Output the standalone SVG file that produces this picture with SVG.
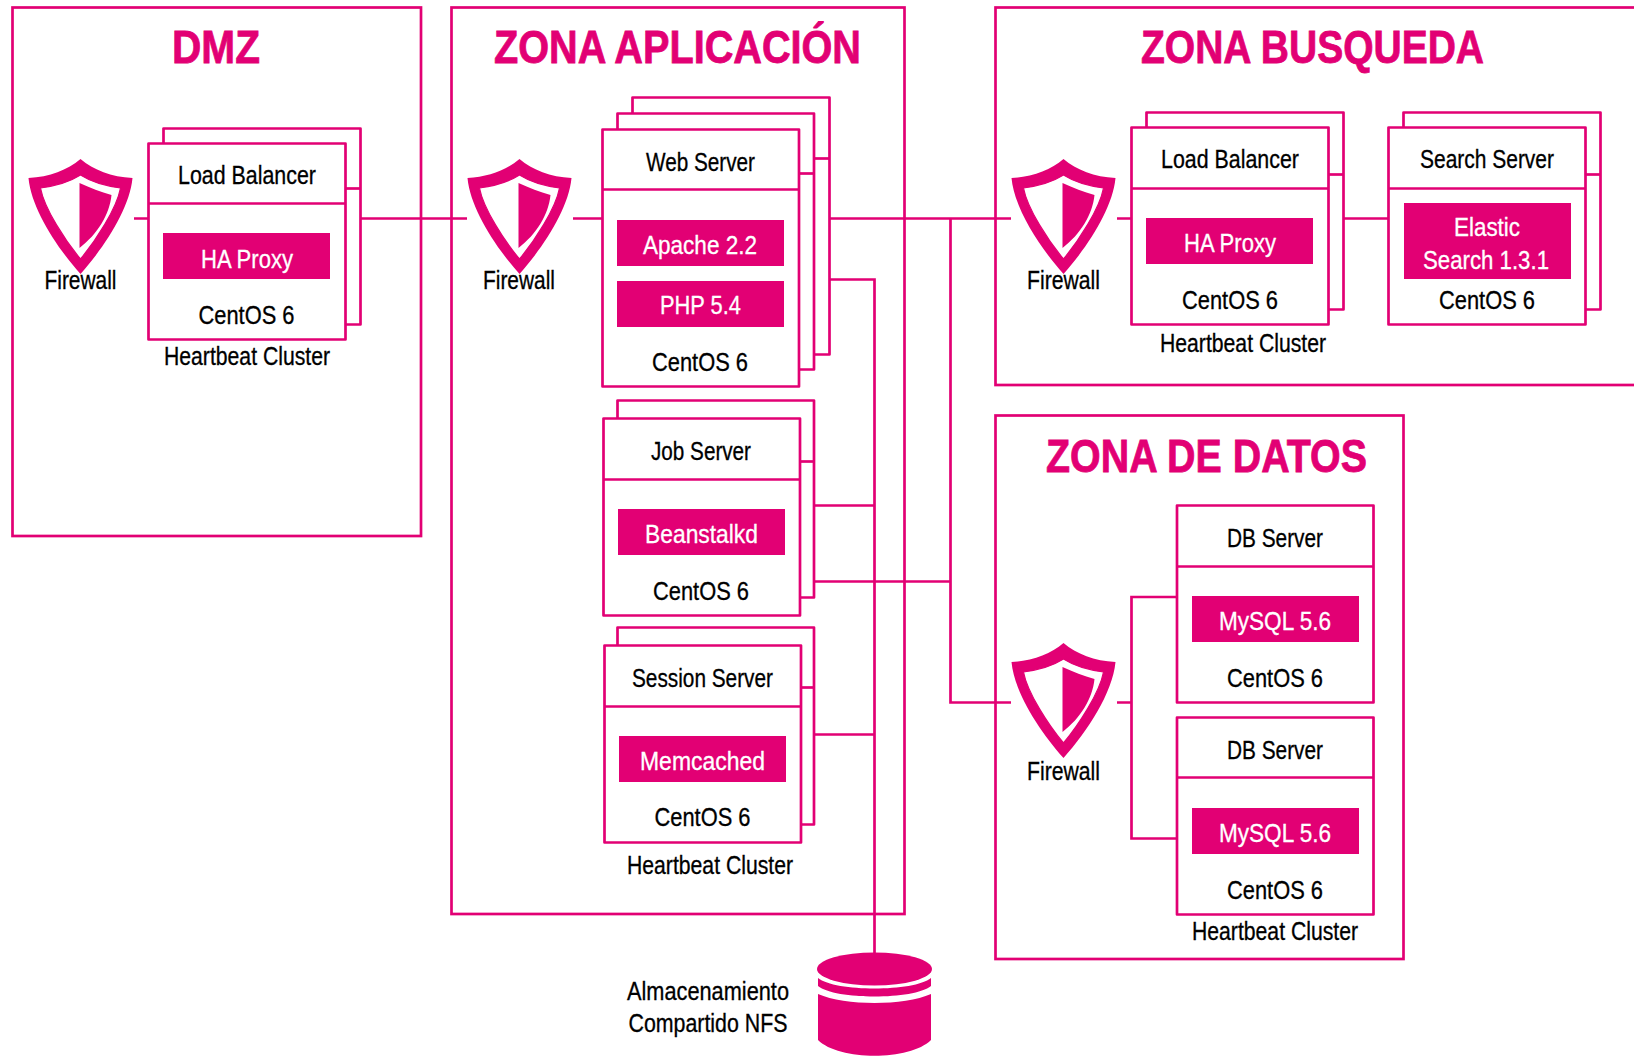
<svg xmlns="http://www.w3.org/2000/svg" width="1634" height="1056" viewBox="0 0 1634 1056">
<style>
.z{fill:none;stroke:#e20074;stroke-width:2.7}
.b{fill:#fff;stroke:#e20074;stroke-width:2.7;stroke-linejoin:round}
.l{fill:none;stroke:#e20074;stroke-width:2.7}
.f{fill:#e20074}
text{font-family:"Liberation Sans",Arial,sans-serif;font-size:25px;text-anchor:middle;fill:#000;stroke:#000;stroke-width:.3}
text.w{fill:#fff;stroke:#fff}
text.t{fill:#e20074;stroke:#e20074;stroke-width:.8;font-weight:bold;font-size:47px}
</style>
<defs>
<g id="shield">
<path class="f" d="M0,0C-13,11 -31,18 -52,19C-49,50 -24,88 0,115C24,88 49,50 52,19C31,18 13,11 0,0Z"/>
<path fill="#fff" stroke="#e20074" stroke-width="1.2" d="M0,16C-11,23 -25,27 -40,29C-36,50 -15,82 0,100C15,82 36,50 40,29C25,27 11,23 0,16Z"/>
<path class="f" d="M-1,24C10,29 20,33 31,36C29,56 17,75 -1,89Z"/>
</g>
</defs>
<g id="zones">
<rect class="z" x="12.500" y="7.500" width="408.500" height="528.500"/>
<rect class="z" x="451.500" y="7.500" width="453" height="906.500"/>
<rect class="z" x="995.500" y="7.500" width="645" height="377.500"/>
<rect class="z" x="995.500" y="415.500" width="408" height="543.500"/>
<text class="t" x="216" y="63" textLength="88" lengthAdjust="spacingAndGlyphs">DMZ</text>
<text class="t" x="677.500" y="63" textLength="367" lengthAdjust="spacingAndGlyphs">ZONA APLICACIÓN</text>
<text class="t" x="1312.500" y="63" textLength="343" lengthAdjust="spacingAndGlyphs">ZONA BUSQUEDA</text>
<text class="t" x="1206.500" y="472" textLength="321" lengthAdjust="spacingAndGlyphs">ZONA DE DATOS</text>
</g>
<g id="connectors">
<path class="l" d="M134,218.500H148M361,218.500H467M573,218.500H602M829,218.500H1011M1117,218.500H1131M1344,218.500H1388"/>
<path class="l" d="M829,279.500H874.500V953M814,505.500H874.500M814,734.500H874.500"/>
<path class="l" d="M950.500,218.500V702.500H1011M814,581.500H950.500"/>
<path class="l" d="M1117,702.500H1131.500M1177,597H1131.500V838.500H1177"/>
</g>
<g id="fw-dmz"><use href="#shield" x="80.500" y="159"/><text x="80.500" y="289" textLength="72" lengthAdjust="spacingAndGlyphs">Firewall</text></g>
<g id="lb-dmz">
<rect class="b" x="163.500" y="128.500" width="197" height="196"/><path class="l" d="M346,188.500H361"/>
<rect class="b" x="148.500" y="143.500" width="197" height="196"/><path class="l" d="M148,203.500H346"/>
<rect class="f" x="163" y="233" width="167" height="46"/>
<text x="247" y="184" textLength="138" lengthAdjust="spacingAndGlyphs">Load Balancer</text>
<text class="w" x="247" y="268" textLength="92" lengthAdjust="spacingAndGlyphs">HA Proxy</text>
<text x="246.500" y="324" textLength="96" lengthAdjust="spacingAndGlyphs">CentOS 6</text>
<text x="247" y="365" textLength="166" lengthAdjust="spacingAndGlyphs">Heartbeat Cluster</text>
</g>
<g id="fw-app"><use href="#shield" x="519.500" y="159"/><text x="519" y="289" textLength="72" lengthAdjust="spacingAndGlyphs">Firewall</text></g>
<g id="web">
<rect class="b" x="632.500" y="97.500" width="197" height="257"/><path class="l" d="M814,158.500H829"/>
<rect class="b" x="617.500" y="113.500" width="196.500" height="256"/><path class="l" d="M799,173.500H814"/>
<rect class="b" x="602.500" y="129.500" width="196.500" height="257"/><path class="l" d="M602,189.500H799"/>
<rect class="f" x="617" y="220" width="167" height="46"/>
<rect class="f" x="617" y="281" width="167" height="46"/>
<text x="700.500" y="171" textLength="109" lengthAdjust="spacingAndGlyphs">Web Server</text>
<text class="w" x="700" y="254" textLength="114" lengthAdjust="spacingAndGlyphs">Apache 2.2</text>
<text class="w" x="700.500" y="314" textLength="81" lengthAdjust="spacingAndGlyphs">PHP 5.4</text>
<text x="700" y="371" textLength="96" lengthAdjust="spacingAndGlyphs">CentOS 6</text>
</g>
<g id="job">
<rect class="b" x="617.500" y="400.500" width="196.500" height="197"/><path class="l" d="M800,461.500H814"/>
<rect class="b" x="603.500" y="418.500" width="196.500" height="197"/><path class="l" d="M603,479.500H800"/>
<rect class="f" x="618" y="509" width="167" height="46"/>
<text x="701" y="460" textLength="100" lengthAdjust="spacingAndGlyphs">Job Server</text>
<text class="w" x="701.500" y="543" textLength="113" lengthAdjust="spacingAndGlyphs">Beanstalkd</text>
<text x="701" y="600" textLength="96" lengthAdjust="spacingAndGlyphs">CentOS 6</text>
</g>
<g id="session">
<rect class="b" x="617.500" y="627.500" width="196.500" height="197"/><path class="l" d="M801,687.500H814"/>
<rect class="b" x="604.500" y="645.500" width="196.500" height="197"/><path class="l" d="M604,706.500H801"/>
<rect class="f" x="619" y="736" width="167" height="46"/>
<text x="702.500" y="686.500" textLength="141" lengthAdjust="spacingAndGlyphs">Session Server</text>
<text class="w" x="702.500" y="770" textLength="125" lengthAdjust="spacingAndGlyphs">Memcached</text>
<text x="702.500" y="826" textLength="96" lengthAdjust="spacingAndGlyphs">CentOS 6</text>
<text x="710" y="874" textLength="166" lengthAdjust="spacingAndGlyphs">Heartbeat Cluster</text>
</g>
<g id="fw-search"><use href="#shield" x="1063.500" y="159"/><text x="1063.500" y="289" textLength="73" lengthAdjust="spacingAndGlyphs">Firewall</text></g>
<g id="lb-search">
<rect class="b" x="1146.500" y="112.500" width="197" height="197"/><path class="l" d="M1329,174.500H1344"/>
<rect class="b" x="1131.500" y="127.500" width="197" height="197"/><path class="l" d="M1131,188.500H1329"/>
<rect class="f" x="1146" y="218" width="167" height="46"/>
<text x="1230" y="168" textLength="138" lengthAdjust="spacingAndGlyphs">Load Balancer</text>
<text class="w" x="1230" y="252" textLength="92" lengthAdjust="spacingAndGlyphs">HA Proxy</text>
<text x="1230" y="309" textLength="96" lengthAdjust="spacingAndGlyphs">CentOS 6</text>
<text x="1243" y="352" textLength="166" lengthAdjust="spacingAndGlyphs">Heartbeat Cluster</text>
</g>
<g id="search">
<rect class="b" x="1403.500" y="112.500" width="197" height="197"/><path class="l" d="M1586,174.500H1600"/>
<rect class="b" x="1388.500" y="127.500" width="197" height="197"/><path class="l" d="M1388,188.500H1586"/>
<rect class="f" x="1404" y="203" width="167" height="76"/>
<text x="1487" y="168" textLength="134" lengthAdjust="spacingAndGlyphs">Search Server</text>
<text class="w" x="1487" y="236" textLength="66" lengthAdjust="spacingAndGlyphs">Elastic</text>
<text class="w" x="1486" y="269" textLength="126" lengthAdjust="spacingAndGlyphs">Search 1.3.1</text>
<text x="1487" y="309" textLength="96" lengthAdjust="spacingAndGlyphs">CentOS 6</text>
</g>
<g id="fw-data"><use href="#shield" x="1063.500" y="643"/><text x="1063.500" y="780" textLength="73" lengthAdjust="spacingAndGlyphs">Firewall</text></g>
<g id="db1">
<rect class="b" x="1177" y="505.500" width="196.500" height="197"/><path class="l" d="M1177,566.500H1374"/>
<rect class="f" x="1192" y="596" width="167" height="46"/>
<text x="1275" y="547" textLength="96" lengthAdjust="spacingAndGlyphs">DB Server</text>
<text class="w" x="1275" y="630" textLength="112" lengthAdjust="spacingAndGlyphs">MySQL 5.6</text>
<text x="1275" y="687" textLength="96" lengthAdjust="spacingAndGlyphs">CentOS 6</text>
</g>
<g id="db2">
<rect class="b" x="1177" y="717.500" width="196.500" height="197"/><path class="l" d="M1177,777.500H1374"/>
<rect class="f" x="1192" y="808" width="167" height="46"/>
<text x="1275" y="759" textLength="96" lengthAdjust="spacingAndGlyphs">DB Server</text>
<text class="w" x="1275" y="841.500" textLength="112" lengthAdjust="spacingAndGlyphs">MySQL 5.6</text>
<text x="1275" y="898.500" textLength="96" lengthAdjust="spacingAndGlyphs">CentOS 6</text>
<text x="1275" y="940" textLength="166" lengthAdjust="spacingAndGlyphs">Heartbeat Cluster</text>
</g>
<g id="nfs">
<ellipse class="f" cx="874.500" cy="969" rx="57.500" ry="16.500"/>
<path class="f" d="M818,978C835,992 914,992 931,978V986C914,1000 835,1000 818,986Z"/>
<path class="f" d="M818,994C845,1006 904,1006 931,994V1040C910,1061 839,1061 818,1040Z"/>
<text x="708" y="1000" textLength="162" lengthAdjust="spacingAndGlyphs">Almacenamiento</text>
<text x="708" y="1032" textLength="159" lengthAdjust="spacingAndGlyphs">Compartido NFS</text>
</g>
</svg>
